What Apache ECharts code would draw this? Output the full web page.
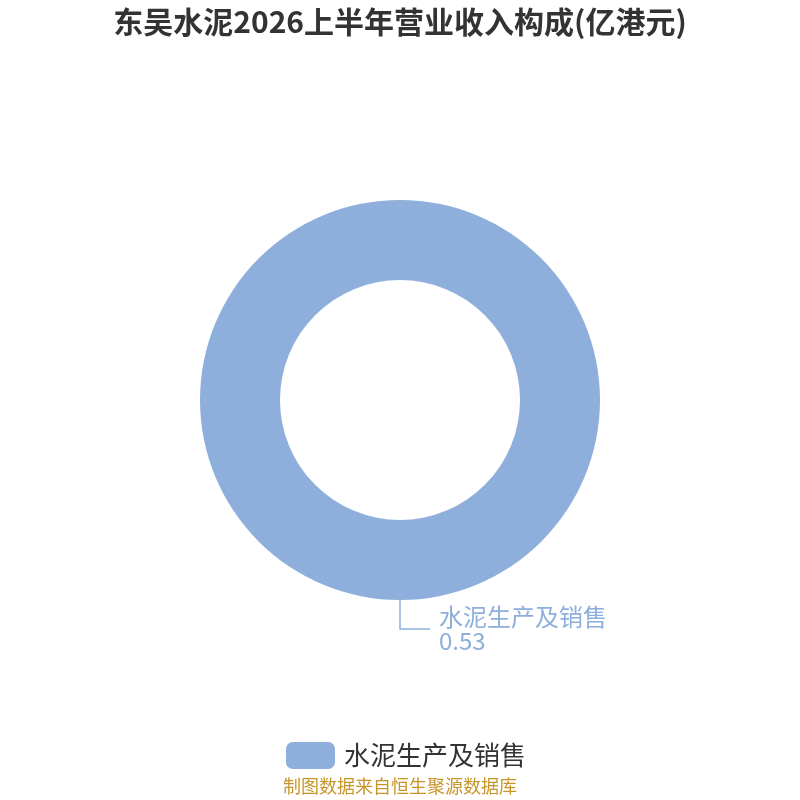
<!DOCTYPE html>
<html>
<head>
<meta charset="utf-8">
<script src="https://cdn.jsdelivr.net/npm/echarts@6/dist/echarts.min.js"></script>
<style>html,body{margin:0;padding:0;background:#fff;}#c{width:800px;height:800px;}</style>
</head>
<body>
<div id="c"></div>
<script>
var titleText = '东吴水泥2026上半年营业收入构成(亿港元)';
var categories = ['水泥生产及销售'];
var values = [0.53];
var sourceText = '制图数据来自恒生聚源数据库';

var chart = echarts.init(document.getElementById('c'));
chart.setOption({
  backgroundColor: '#ffffff',
  title: {
    text: titleText,
    left: 'center',
    top: 2,
    textStyle: {fontFamily: 'Noto Sans CJK SC', fontSize: 30, fontWeight: 'bold', color: '#333333'}
  },
  legend: {
    top: 742,
    left: 286,
    itemWidth: 49,
    itemHeight: 27,
    itemGap: 10,
    padding: 0,
    textStyle: {fontFamily: 'Noto Sans CJK SC', fontSize: 26, color: '#333333', padding: [0, 0, 0, 4]},
    data: categories
  },
  graphic: [{
    type: 'text',
    left: 'center',
    top: 777,
    style: {text: sourceText, fontFamily: 'Noto Sans CJK SC', fontSize: 18, fill: '#c8952a'}
  }],
  color: ['#8eaedb'],
  series: [{
    type: 'pie',
    center: ['50%', '50%'],
    radius: [120, 200],
    data: categories.map(function (c, i) { return {name: c, value: values[i]}; }),
    label: {
      formatter: '{b}\n{c}',
      fontFamily: 'Noto Sans CJK SC',
      fontSize: 24,
      lineHeight: 24,
      color: '#8eaedb',
      distanceToLabelLine: 9
    },
    labelLine: {length: 29, length2: 30, lineStyle: {width: 1.5}},
    emphasis: {disabled: true}
  }]
});
</script>
</body>
</html>
